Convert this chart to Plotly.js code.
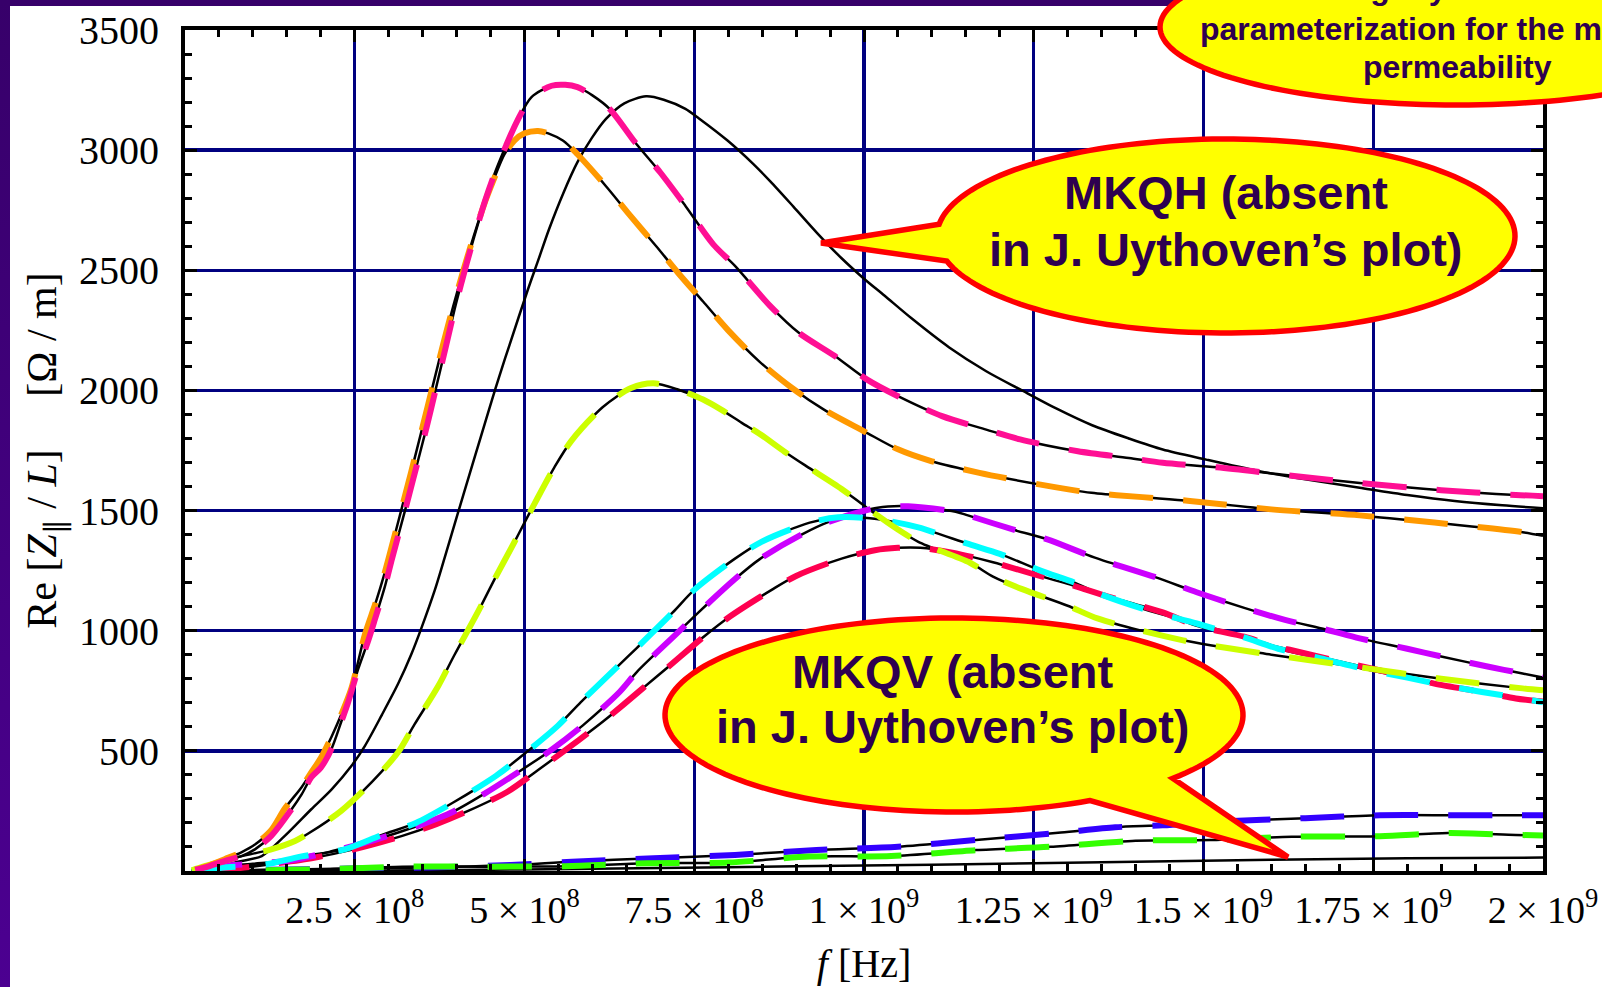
<!DOCTYPE html>
<html>
<head>
<meta charset="utf-8">
<script src="https://cdn.plot.ly/plotly-3.0.1.min.js"></script>
<style>
  html, body { margin: 0; padding: 0; width: 1602px; height: 987px; overflow: hidden; }
  body { position: relative; background: linear-gradient(to bottom, #37006a, #4c0091); }
  #sheet { position: absolute; left: 10px; top: 6px; right: 0; bottom: 0; background: #ffffff; }
  #chart { position: absolute; left: 0; top: 0; width: 1602px; height: 987px; }
</style>
</head>
<body>
<div id="sheet"></div>
<div id="chart"></div>
<script>
// Frequency axis ticks
const xTickVals = [2.5e8, 5e8, 7.5e8, 1e9, 1.25e9, 1.5e9, 1.75e9, 2e9];
const xTickText = ['2.5 × 10<sup>8</sup>', '5 × 10<sup>8</sup>', '7.5 × 10<sup>8</sup>', '1 × 10<sup>9</sup>',
                   '1.25 × 10<sup>9</sup>', '1.5 × 10<sup>9</sup>', '1.75 × 10<sup>9</sup>', '2 × 10<sup>9</sup>'];
const yTickVals = [500, 1000, 1500, 2000, 2500, 3000, 3500];
const yTickText = ['500', '1000', '1500', '2000', '2500', '3000', '3500'];

// MKQH model curve (no measured counterpart)
const mkqhF = [0.1e8,0.5e8,0.8e8,1.13e8,1.47e8,1.86e8,2.16e8,2.45e8,2.65e8,2.9e8,3.14e8,3.33e8,3.48e8,3.68e8,3.82e8,4.02e8,4.2e8,4.36e8,4.52e8,4.63e8,4.78e8,5.05e8,5.2e8,5.36e8,5.57e8,5.78e8,5.99e8,6.2e8,6.47e8,6.79e8,7.05e8,7.37e8,7.57e8,7.99e8,8.36e8,8.62e8,8.96e8,9.31e8,9.67e8,10.0e8,10.3e8,10.7e8,11.25e8,11.8e8,12.3e8,12.83e8,13.36e8,13.9e8,14.4e8,15.04e8,15.8e8,16.5e8,17.3e8,18.0e8,18.7e8,19.4e8,20.0e8];
const mkqhZ = [2,20,40,62,146,257,340,437,521,650,780,900,1010,1170,1300,1490,1660,1810,1960,2060,2190,2420,2540,2670,2820,2950,3050,3130,3195,3224,3210,3172,3132,3040,2945,2870,2765,2655,2550,2465,2395,2300,2180,2080,2004,1925,1855,1800,1754,1712,1665,1630,1595,1565,1540,1522,1510];

// MKQV model curve near zero (no measured counterpart)
const mkqvF = [0.1e8,2e8,4e8,6e8,8e8,10e8,12e8,14e8,16e8,18e8,20e8];
const mkqvZ = [0,1,4,9,16,23,30,39,47,53,56];

// Pink series
const pinkF = [0.15e8,0.3e8,0.59e8,0.83e8,1.03e8,1.27e8,1.57e8,1.72e8,1.86e8,2.0e8,2.16e8,2.3e8,2.4e8,2.55e8,2.7e8,2.8e8,2.94e8,3.04e8,3.24e8,3.36e8,3.57e8,3.68e8,3.84e8,3.99e8,4.15e8,4.26e8,4.42e8,4.57e8,4.73e8,4.89e8,5.1e8,5.4e8,5.6e8,5.78e8,6.0e8,6.26e8,6.63e8,7.0e8,7.37e8,7.78e8,8.1e8,8.62e8,9.04e8,9.57e8,10.04e8,10.5e8,11.15e8,11.8e8,12.3e8,13.15e8,13.9e8,14.4e8,15.2e8,16.3e8,17.3e8,18.5e8,19.6e8,20e8];
const pinkZ = [5,15,42,62,90,146,257,320,390,430,510,620,700,840,960,1050,1180,1290,1500,1630,1860,1990,2180,2360,2530,2640,2790,2910,3020,3120,3220,3268,3272,3262,3228,3170,3032,2907,2768,2608,2518,2351,2240,2143,2046,1976,1893,1837,1796,1747,1719,1699,1680,1645,1615,1585,1565,1560];

// Orange series
const orangeF = [0.15e8,0.3e8,0.59e8,0.83e8,1.03e8,1.27e8,1.47e8,1.72e8,1.86e8,2.0e8,2.16e8,2.3e8,2.45e8,2.65e8,2.8e8,2.94e8,3.1e8,3.33e8,3.5e8,3.65e8,3.8e8,3.95e8,4.1e8,4.25e8,4.4e8,4.55e8,4.7e8,4.85e8,5.0e8,5.2e8,5.35e8,5.57e8,5.78e8,6.2e8,6.52e8,6.94e8,7.26e8,7.63e8,8.0e8,8.46e8,8.94e8,9.41e8,10.0e8,10.5e8,11.0e8,11.7e8,12.6e8,13.35e8,14.1e8,14.8e8,16.0e8,17.3e8,18.4e8,19.7e8,20e8];
const orangeZ = [5,18,50,78,110,170,260,350,410,470,560,650,760,985,1110,1240,1410,1660,1850,2020,2190,2350,2500,2640,2770,2880,2980,3040,3070,3080,3070,3039,2983,2850,2740,2600,2490,2370,2250,2120,2010,1920,1830,1755,1705,1657,1608,1574,1556,1540,1505,1480,1450,1410,1395];

// Yellow-green series
const limeF = [0.1e8,0.29e8,0.74e8,1.27e8,1.62e8,1.81e8,2.3e8,2.75e8,3.14e8,3.38e8,3.73e8,3.97e8,4.31e8,4.56e8,4.85e8,5.0e8,5.15e8,5.44e8,5.69e8,6.15e8,6.57e8,6.9e8,7.26e8,7.63e8,7.89e8,8.2e8,8.46e8,8.83e8,9.15e8,9.67e8,10.05e8,10.5e8,10.8e8,11.56e8,11.9e8,12.33e8,13.0e8,13.45e8,14.7e8,16.0e8,17.3e8,18.5e8,19.7e8,20e8];
const limeZ = [3,20,55,90,125,155,250,370,495,610,770,900,1076,1215,1368,1450,1530,1680,1790,1930,2010,2030,2004,1962,1921,1865,1820,1745,1685,1590,1510,1421,1370,1283,1225,1173,1104,1050,960,900,848,800,760,752];

// Violet series
const violetF = [0.2e8,0.44e8,1.0e8,1.6e8,2.2e8,2.8e8,3.4e8,3.9e8,4.4e8,4.9e8,5.4e8,5.86e8,6.4e8,6.66e8,7.23e8,7.54e8,8.1e8,8.46e8,9.08e8,9.5e8,10.2e8,10.65e8,11.35e8,11.53e8,12.23e8,12.7e8,13.4e8,14.3e8,14.9e8,15.6e8,16.2e8,16.8e8,17.3e8,18.0e8,18.5e8,19.2e8,19.7e8,20e8];
const violetZ = [3,18,30,46,85,130,185,240,320,410,505,606,745,830,985,1070,1215,1297,1400,1455,1512,1518,1495,1480,1418,1380,1304,1222,1160,1095,1045,1005,968,925,893,850,822,805];

// Cyan series
const cyanF = [0.1e8,0.54e8,1.2e8,1.7e8,2.35e8,2.9e8,3.4e8,3.95e8,4.58e8,4.93e8,5.49e8,5.83e8,6.35e8,6.66e8,7.18e8,7.5e8,8.1e8,8.49e8,9.2e8,9.62e8,10.0e8,10.4e8,10.8e8,11.55e8,12.0e8,12.6e8,13.1e8,13.5e8,14.2e8,14.9e8,15.6e8,16.1e8,16.8e8,17.3e8,18.0e8,18.5e8,19.1e8,19.7e8,20e8];
const cyanZ = [2,14,28,60,90,150,200,285,396,472,604,703,845,930,1075,1170,1300,1370,1450,1472,1470,1455,1430,1360,1320,1250,1200,1150,1083,1030,972,925,880,845,805,775,745,718,702];

// Crimson series
const crimsonF = [0.3e8,0.8e8,1.3e8,1.9e8,2.45e8,3.2e8,3.7e8,4.17e8,4.75e8,5.2e8,5.8e8,6.17e8,6.74e8,7.12e8,7.64e8,8.03e8,8.64e8,9.0e8,9.67e8,10.16e8,10.5e8,10.83e8,11.3e8,11.9e8,12.5e8,13.0e8,13.5e8,14.4e8,14.9e8,15.6e8,16.0e8,16.5e8,17.2e8,17.9e8,18.4e8,19.1e8,19.6e8,20e8];
const crimsonZ = [3,12,30,55,88,146,195,250,330,420,545,625,760,850,975,1060,1170,1228,1300,1335,1345,1345,1325,1285,1235,1195,1150,1076,1020,975,940,905,860,815,780,745,718,705];

// Blue series
const blueF = [0.1e8,1.2e8,2.4e8,3.6e8,4.8e8,5.7e8,6.9e8,8.1e8,9.3e8,10.5e8,11.65e8,12.9e8,13.7e8,14.4e8,15.2e8,16.5e8,17.6e8,18.7e8,19.6e8,20e8];
const blueZ = [0,5,10,15,25,39,53,67,87,101,129,160,182,190,205,220,232,232,232,232];

// Green series
const greenF = [0.1e8,1.0e8,2.0e8,3.2e8,4.4e8,5.6e8,6.8e8,8.0e8,9.2e8,10.4e8,11.65e8,12.75e8,14.0e8,15.1e8,16.3e8,17.6e8,18.6e8,19.6e8,20e8];
const greenZ = [0,3,7,18,18,20,32,35,60,62,87,101,126,129,143,145,158,150,148];

// Plot frame in page pixels
const PL = 185, PR = 1543, PT = 30, PB = 871;
const toPX = p => (p - PL) / (PR - PL);
const toPY = p => (PB - p) / (PB - PT);

const model = (x, y) => ({
  x, y, type: 'scatter', mode: 'lines', hoverinfo: 'skip', showlegend: false,
  line: { color: '#000000', width: 2.5, shape: 'spline', smoothing: 0.8 }
});
const measured = (x, y, color) => ({
  x, y, type: 'scatter', mode: 'lines', hoverinfo: 'skip', showlegend: false,
  line: { color, width: 6, dash: '44px,30px', shape: 'spline', smoothing: 0.8 }
});

const traces = [
  model(mkqvF, mkqvZ),
  model(blueF, blueZ),
  model(greenF, greenZ),
  model(crimsonF, crimsonZ),
  model(cyanF, cyanZ),
  model(violetF, violetZ),
  model(limeF, limeZ),
  model(orangeF, orangeZ),
  model(pinkF, pinkZ),
  model(mkqhF, mkqhZ),
  measured(blueF, blueZ, '#3300ff'),
  measured(greenF, greenZ, '#33ff00'),
  measured(crimsonF, crimsonZ, '#ff0050'),
  measured(violetF, violetZ, '#cc00ff'),
  measured(cyanF, cyanZ, '#00ffff'),
  measured(limeF, limeZ, '#ccff00'),
  measured(orangeF, orangeZ, '#ff9900'),
  measured(pinkF, pinkZ, '#ff0f94')
];

// Speech-bubble outline: ellipse with optional pointer, in page pixels
function bubble(cx, cy, rx, ry, tail) {
  const pts = [];
  const a0 = tail ? tail.to : 0;
  const a1 = tail ? tail.from + 360 : 360;
  const n = 160;
  for (let i = 0; i <= n; i++) {
    const a = (a0 + (a1 - a0) * i / n) * Math.PI / 180;
    pts.push([cx + rx * Math.cos(a), cy + ry * Math.sin(a)]);
  }
  if (tail) pts.push(tail.tip);
  return 'M' + pts.map(p => toPX(p[0]).toFixed(5) + ',' + toPY(p[1]).toFixed(5)).join('L') + 'Z';
}
const bubbleStyle = { type: 'path', xref: 'paper', yref: 'paper', layer: 'above',
                      fillcolor: '#ffff00', line: { color: '#ff0000', width: 5.5 } };
const shapes = [
  Object.assign({ path: bubble(1457, 27, 297, 78, null) }, bubbleStyle),
  Object.assign({ path: bubble(1226, 236, 289, 97, { from: 165, to: 187, tip: [821, 243] }) }, bubbleStyle),
  Object.assign({ path: bubble(954, 715, 289, 97, { from: 40.8, to: 61.9, tip: [1288, 857] }) }, bubbleStyle)
];

const noteFont = (size) => ({ family: 'Liberation Sans, Arial, sans-serif', size, color: '#2e0050' });
const note = (text, x, y, size) => ({
  text: '<b>' + text + '</b>', x: toPX(x), y: toPY(y), xref: 'paper', yref: 'paper',
  xanchor: 'center', yanchor: 'middle', showarrow: false, font: noteFont(size)
});
const annotations = [
  note('Slightly different', 1457, -12, 32),
  note('parameterization for the magnetic', 1457, 29.5, 32),
  note('permeability', 1457, 67, 32),
  note('MKQH (absent', 1226, 192.5, 47),
  note('in J. Uythoven’s plot)', 1226, 249, 47),
  note('MKQV (absent', 953, 671, 47),
  note('in J. Uythoven’s plot)', 953, 726, 47)
];

const serif = 'Liberation Serif, Times New Roman, serif';
const layout = {
  width: 1602, height: 987,
  margin: { l: PL, r: 1602 - PR, t: PT, b: 987 - PB, pad: 0 },
  paper_bgcolor: 'rgba(0,0,0,0)', plot_bgcolor: '#ffffff',
  hovermode: false, showlegend: false,
  xaxis: {
    range: [0, 2e9], tickmode: 'array', tickvals: xTickVals, ticktext: xTickText,
    showgrid: true, gridcolor: '#000080', gridwidth: 3.4, zeroline: false,
    showline: true, linecolor: '#000000', linewidth: 4, mirror: 'allticks',
    ticks: 'inside', ticklen: 12, tickwidth: 3, tickcolor: '#000000',
    minor: { ticks: 'inside', dtick: 5e7, tick0: 0, ticklen: 7, tickwidth: 3, tickcolor: '#000000', showgrid: false },
    tickfont: { family: serif, size: 38, color: '#000000' }, ticklabelstandoff: 2,
    title: { text: '\u00a0\u00a0\u00a0\u00a0\u00a0\u00a0<i>f</i> [Hz]', font: { family: serif, size: 40, color: '#000000' }, standoff: 20 },
    automargin: false, fixedrange: true
  },
  yaxis: {
    range: [0, 3500], tickmode: 'array', tickvals: yTickVals, ticktext: yTickText,
    showgrid: true, gridcolor: '#000080', gridwidth: 3.4, zeroline: false,
    showline: true, linecolor: '#000000', linewidth: 4, mirror: 'allticks',
    ticks: 'inside', ticklen: 12, tickwidth: 3, tickcolor: '#000000',
    minor: { ticks: 'inside', dtick: 100, tick0: 0, ticklen: 7, tickwidth: 3, tickcolor: '#000000', showgrid: false },
    tickfont: { family: serif, size: 40, color: '#000000' }, ticklabelstandoff: 14,
    title: { text: 'Re [<i>Z</i><sub>∥</sub> / <i>L</i>]\u00a0\u00a0\u00a0\u00a0\u00a0[Ω / m]', font: { family: serif, size: 42, color: '#000000' }, standoff: 10 },
    automargin: false, fixedrange: true
  },
  shapes, annotations
};

Plotly.newPlot('chart', traces, layout, { displayModeBar: false, staticPlot: true });
</script>
</body>
</html>
